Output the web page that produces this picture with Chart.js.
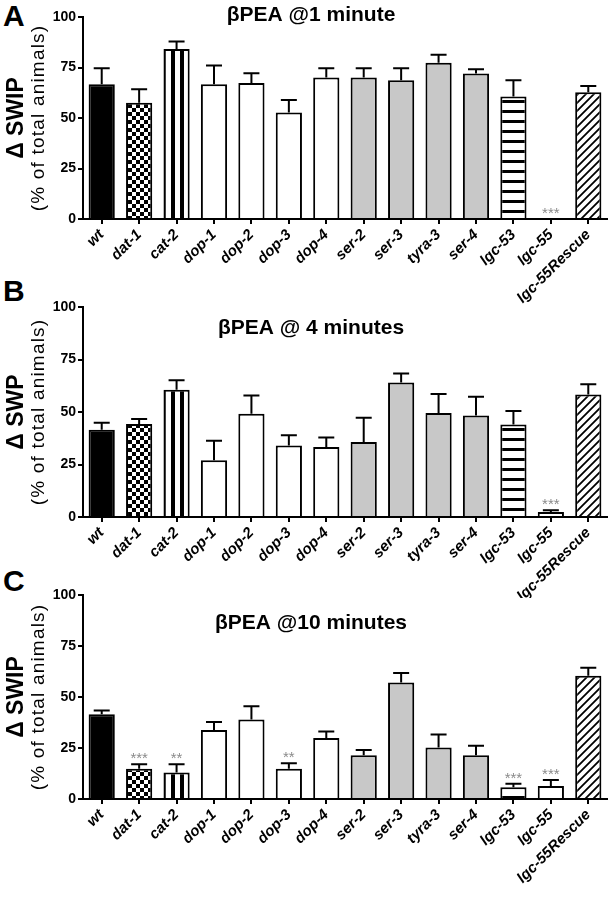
<!DOCTYPE html>
<html>
<head>
<meta charset="utf-8">
<script src="https://cdn.jsdelivr.net/npm/chart.js@4.4.1/dist/chart.umd.min.js"></script>
<style>
  body { margin: 0; background: #fff; width: 611px; height: 900px; position: relative; overflow: hidden; }
  canvas { position: absolute; left: 0; }
  .tag { position: absolute; left: 3px; font: bold 30px "Liberation Sans", Arial, sans-serif; line-height: 30px; }
</style>
</head>
<body>
<div class="tag" style="top:1px">A</div>
<div class="tag" style="top:276px">B</div>
<div class="tag" style="top:566px">C</div>
<canvas id="chartA" width="611" height="310" style="top:0px"></canvas>
<canvas id="chartB" width="611" height="310" style="top:288px"></canvas>
<canvas id="chartC" width="611" height="324" style="top:576px"></canvas>
<script>
// 데이터
const genes = ['wt', 'dat-1', 'cat-2', 'dop-1', 'dop-2', 'dop-3', 'dop-4', 'ser-2', 'ser-3', 'tyra-3', 'ser-4', 'lgc-53', 'lgc-55', 'lgc-55Rescue'];
const yTicks = [0, 25, 50, 75, 100];

const oneMin    = [66.7, 57.5, 84.1, 66.7, 67.3, 52.7, 70.0, 70.0, 68.7, 77.3, 72.0, 60.7, 0, 62.7];
const oneMinErr = [7.9, 6.7, 3.8, 9.3, 4.8, 6.2, 4.6, 4.6, 5.9, 4.0, 2.1, 8.0, 0, 3.1];
const oneMinStars = ['', '', '', '', '', '', '', '', '', '', '', '', '***', ''];

const fourMin    = [41.6, 44.3, 60.6, 27.0, 49.2, 34.0, 33.3, 35.7, 64.1, 49.5, 48.3, 44.0, 2.4, 58.3];
const fourMinErr = [3.3, 2.4, 4.5, 9.3, 8.7, 4.9, 4.6, 11.6, 4.2, 9.1, 9.0, 6.5, 0.8, 4.9];
const fourMinStars = ['', '', '', '', '', '', '', '', '', '', '', '', '***', ''];

const tenMin    = [41.6, 14.8, 13.0, 33.8, 39.0, 14.8, 29.9, 21.4, 57.1, 25.3, 21.4, 5.7, 6.4, 60.4];
const tenMinErr = [1.8, 2.2, 4.0, 3.9, 6.5, 2.7, 3.2, 2.6, 4.7, 6.3, 4.7, 1.8, 2.9, 3.9];
const tenMinStars = ['', '***', '**', '', '', '**', '', '', '', '', '', '***', '***', ''];

// 막대 채우기 종류
const fills = ['black', 'checker', 'vstripe', 'white', 'white', 'white', 'white', 'gray', 'gray', 'gray', 'gray', 'hstripe', 'white', 'hatch'];

function makeFill(kind) {
    if (kind === 'black') return '#000';
    if (kind === 'white') return '#fff';
    if (kind === 'gray') return '#c8c8c8';
    const c = document.createElement('canvas');
    const g = c.getContext('2d');
    if (kind === 'checker') {
        c.width = 8; c.height = 8;
        g.fillStyle = '#fff'; g.fillRect(0, 0, 8, 8);
        g.fillStyle = '#000'; g.fillRect(0, 0, 4, 4); g.fillRect(4, 4, 4, 4);
    } else if (kind === 'vstripe') {
        c.width = 9; c.height = 4;
        g.fillStyle = '#fff'; g.fillRect(0, 0, 9, 4);
        g.fillStyle = '#000'; g.fillRect(0, 0, 4, 4);
    } else if (kind === 'hstripe') {
        c.width = 4; c.height = 10;
        g.fillStyle = '#fff'; g.fillRect(0, 0, 4, 10);
        g.fillStyle = '#000'; g.fillRect(0, 0, 4, 3);
    } else if (kind === 'hatch') {
        c.width = 8; c.height = 8;
        g.fillStyle = '#fff'; g.fillRect(0, 0, 8, 8);
        g.strokeStyle = '#000'; g.lineWidth = 1.8;
        g.beginPath();
        g.moveTo(0, 8); g.lineTo(8, 0);
        g.moveTo(-2, 2); g.lineTo(2, -2);
        g.moveTo(6, 10); g.lineTo(10, 6);
        g.stroke();
    }
    return g.createPattern(c, 'repeat');
}

// 오차 막대, 별표, 제목 그리기
const panelDecor = {
    id: 'panelDecor',
    afterDatasetsDraw(chart, args, opts) {
        const ctx = chart.ctx;
        const y = chart.scales.y;
        const area = chart.chartArea;
        const meta = chart.getDatasetMeta(0);
        const vals = chart.data.datasets[0].data;
        ctx.save();
        ctx.strokeStyle = '#000';
        ctx.lineWidth = 2;
        meta.data.forEach((bar, i) => {
            const top = y.getPixelForValue(vals[i] + opts.err[i]);
            if (opts.err[i] > 0) {
                ctx.beginPath();
                ctx.moveTo(bar.x, bar.y);
                ctx.lineTo(bar.x, top);
                ctx.moveTo(bar.x - 8, top);
                ctx.lineTo(bar.x + 8, top);
                ctx.stroke();
            }
            if (opts.stars[i]) {
                ctx.fillStyle = '#8a8a8a';
                ctx.font = '15px "Liberation Sans", Arial, sans-serif';
                ctx.textAlign = 'center';
                ctx.textBaseline = 'alphabetic';
                ctx.fillText(opts.stars[i], bar.x, top - 1);
            }
        });
        // 패널 제목
        ctx.fillStyle = '#000';
        ctx.font = 'bold 21px "Liberation Sans", Arial, sans-serif';
        ctx.textAlign = 'center';
        ctx.textBaseline = 'middle';
        ctx.fillText(opts.title, area.left + 228, y.getPixelForValue(opts.titleAt));
        // 세로축 제목
        const midY = (area.top + area.bottom) / 2;
        ctx.save();
        ctx.translate(17, midY);
        ctx.rotate(-Math.PI / 2);
        ctx.font = 'bold 23px "Liberation Sans", Arial, sans-serif';
        ctx.fillText(opts.yTitle, 0, 0);
        ctx.restore();
        ctx.save();
        ctx.translate(39, midY);
        ctx.rotate(-Math.PI / 2);
        ctx.font = '19px "Liberation Sans", Arial, sans-serif';
        ctx.letterSpacing = '1.2px';
        ctx.fillText('(% of total animals)', 0, 0);
        ctx.restore();
        ctx.restore();
    }
};

function drawPanel(id, values, errs, stars, title, yTitle, titleAt, padTop, xHeight) {
    const ctx = document.getElementById(id).getContext('2d');
    new Chart(ctx, {
        type: 'bar',
        data: {
            labels: genes,
            datasets: [{
                data: values,
                backgroundColor: fills.map(makeFill),
                borderColor: '#000',
                borderWidth: 2,
                borderSkipped: 'bottom',
                barPercentage: 0.7,
                categoryPercentage: 1.0
            }]
        },
        plugins: [panelDecor],
        options: {
            responsive: false,
            animation: false,
            layout: { padding: { top: padTop, right: 4, left: 0, bottom: 0 } },
            scales: {
                x: {
                    afterFit: s => { s.height = xHeight; },
                    border: { color: '#000', width: 2 },
                    grid: { offset: false, drawOnChartArea: false, color: '#000', lineWidth: 2, tickLength: 5 },
                    ticks: {
                        color: '#000',
                        autoSkip: false,
                        minRotation: 45,
                        maxRotation: 45,
                        padding: 2,
                        font: { family: '"Liberation Sans", Arial, sans-serif', size: 15, weight: 'bold', style: 'italic' }
                    }
                },
                y: {
                    min: yTicks[0],
                    max: yTicks[yTicks.length - 1],
                    afterFit: s => { s.width = 83; },
                    afterBuildTicks: s => { s.ticks = yTicks.map(v => ({ value: v })); },
                    border: { color: '#000', width: 2 },
                    grid: { drawOnChartArea: false, color: '#000', lineWidth: 2, tickLength: 5 },
                    ticks: {
                        color: '#000',
                        padding: 2,
                        font: { family: '"Liberation Sans", Arial, sans-serif', size: 14, weight: 'bold' }
                    }
                }
            },
            plugins: {
                legend: { display: false },
                tooltip: { enabled: false },
                panelDecor: { err: errs, stars: stars, title: title, yTitle: yTitle, titleAt: titleAt }
            }
        }
    });
}

drawPanel('chartA', oneMin, oneMinErr, oneMinStars, 'βPEA @1 minute', 'Δ SWIP', 101, 17, 91);
drawPanel('chartB', fourMin, fourMinErr, fourMinStars, 'βPEA @ 4 minutes', 'Δ SWP', 90, 19, 81);
drawPanel('chartC', tenMin, tenMinErr, tenMinStars, 'βPEA @10 minutes', 'Δ SWIP', 86, 19, 101);
</script>
</body>
</html>
